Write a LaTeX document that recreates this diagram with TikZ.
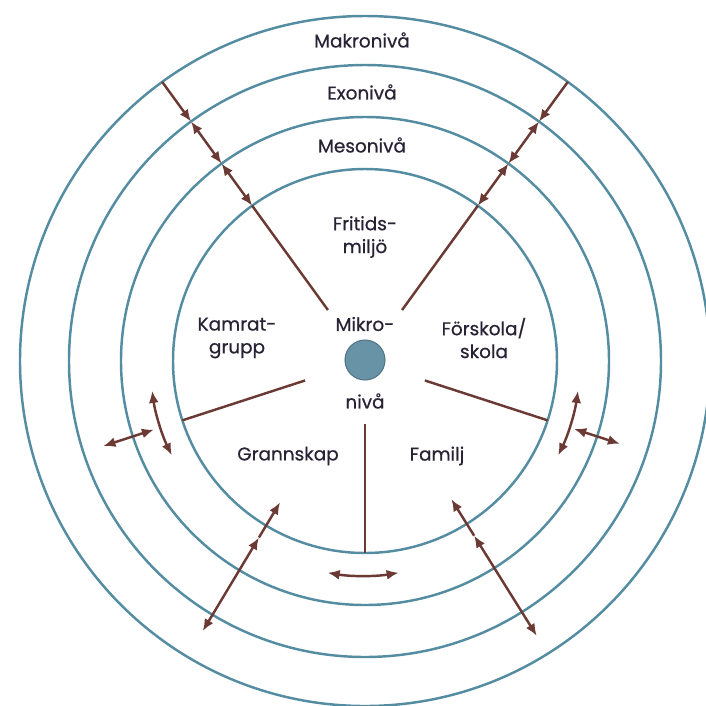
\documentclass[tikz,border=0pt]{standalone}
\usepackage{fontspec}
\setmainfont{Poppins}
\newfontfamily\lblfont{Poppins}[FakeBold=0.6,UprightFeatures={FakeBold=0.6}]
\usetikzlibrary{arrows.meta}

\definecolor{ringblue}{RGB}{84,140,162}
\definecolor{linkbrown}{RGB}{108,58,52}
\definecolor{txtdark}{RGB}{40,34,52}
\definecolor{dotfill}{RGB}{104,146,166}

\begin{document}
\begin{tikzpicture}[
	ring/.style={circle, draw=ringblue, line width=1.4pt, inner sep=0pt, outer sep=0pt},
	guide/.style={circle, inner sep=0pt, outer sep=0pt},
	link/.style={draw=linkbrown, line width=1.4pt, >={Latex[length=2.4mm,width=2mm]}},
	lbl/.style={text=txtdark, font=\lblfont\fontsize{10.5}{13}\selectfont, align=center}
]
	\useasboundingbox (-7.3,-6.88) rectangle (6.82,7.22);
	\clip (-7.3,-6.88) rectangle (6.82,7.22);

	% levels
	\node[ring, minimum size=13.8cm] (makro) at (0,0) {};
	\node[ring, minimum size=11.84cm] (exo) at (0,0) {};
	\node[ring, minimum size=9.76cm] (meso) at (0,0) {};
	\node[ring, minimum size=7.68cm] (mikro) at (0,0) {};
	\node[guide, minimum size=2.52cm] (hub) at (0,0) {};
	\node[guide, minimum size=8.6cm] (gap) at (0,0) {};

	\node[circle, fill=dotfill, draw=dotfill!80!black, line width=0.6pt, minimum size=0.8cm, inner sep=0pt] (dot) at (0,0.02) {};

	% radial lines
	\foreach \a in {54,126} {
		\draw[link,->] (makro.\a) -- (exo.\a);
		\draw[link,<->] (exo.\a) -- (meso.\a);
		\draw[link,<->] (meso.\a) -- (mikro.\a);
		\draw[link] (mikro.\a) -- (hub.\a);
	}
	\foreach \a in {198,270,342}
		\draw[link] (hub.\a) -- (mikro.\a);

	% curved arrows
	\draw[link,<->] (gap.188) arc[start angle=188, end angle=206, radius=4.3cm];
	\draw[link,<->] (gap.260.5) arc[start angle=260.5, end angle=279.5, radius=4.3cm];
	\draw[link,<->] (gap.334) arc[start angle=334, end angle=352, radius=4.3cm];

	% straight arrows
	\coordinate (kin) at (198:4.44);
	\coordinate (kout) at (198:5.5);
	\coordinate (fin) at (342:4.4);
	\coordinate (fout) at (342:5.36);
	\draw[link,<->] (kin) -- (kout);
	\draw[link,<->] (fin) -- (fout);

	\coordinate (ga) at (239:3.3);
	\coordinate (gb) at (239:4.12);
	\coordinate (gc) at (239:6.3);
	\coordinate (fa) at (302:3.26);
	\coordinate (fb) at (302:4.12);
	\coordinate (fc) at (302:6.48);
	\draw[link,<-] (ga) -- (gb);
	\draw[link,<->] (gb) -- (gc);
	\draw[link,<-] (fa) -- (fb);
	\draw[link,<->] (fb) -- (fc);

	% labels
	\node[lbl] (tmakro) at (-0.06,6.42) {Makronivå};
	\node[lbl] (texo) at (-0.06,5.38) {Exonivå};
	\node[lbl] (tmeso) at (-0.06,4.32) {Mesonivå};
	\node[lbl] (tfritid) at (0,2.48) {Fritids-\\miljö};
	\node[lbl] (tmikro) at (0,0.74) {Mikro-};
	\node[lbl] (tniva) at (0,-0.8) {nivå};
	\node[lbl] (tkamrat) at (-2.56,0.46) {Kamrat-\\grupp};
	\node[lbl] (tskola) at (2.38,0.46) {Förskola/\\skola};
	\node[lbl] (tgrann) at (-1.54,-1.9) {Grannskap};
	\node[lbl] (tfamilj) at (1.44,-1.9) {Familj};
\end{tikzpicture}
\end{document}
